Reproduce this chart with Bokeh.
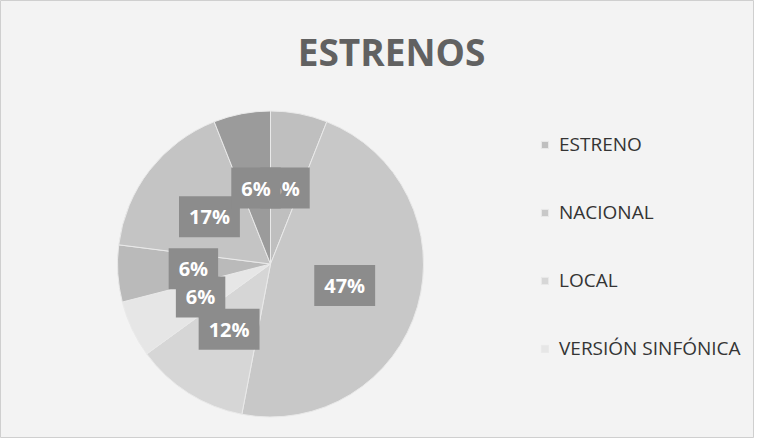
import numpy as np
from bokeh.plotting import figure
from bokeh.models import ColumnDataSource, Range1d, Legend, LegendItem, Label
from bokeh.core.properties import value
from bokeh.embed import file_html
from bokeh.resources import INLINE

# ---- data ----
title_text = "ESTRENOS"
legend_names = ["ESTRENO", "NACIONAL", "LOCAL", "VERSIÓN SINFÓNICA"]
percentages = [6, 47, 12, 6, 6, 17, 6]
label_texts = ["6%", "47%", "12%", "6%", "6%", "17%", "6%"]
slice_colors = ["#bfbfbf", "#c8c8c8", "#d6d6d6", "#e6e6e6", "#bababa", "#c4c4c4", "#9b9b9b"]

# ---- layout ----
W, H = 754, 438
cx, cy, R = 270, 174.5, 153

vals = np.array(percentages, dtype=float)
frac = vals / vals.sum()
ends = np.cumsum(frac) * 2 * np.pi
starts = ends - frac * 2 * np.pi
mids = (starts + ends) / 2

source = ColumnDataSource(dict(
    start=np.pi / 2 - starts,
    end=np.pi / 2 - ends,
    color=slice_colors,
    lx=cx + 0.505 * R * np.sin(mids),
    ly=cy + 0.505 * R * np.cos(mids),
    text=label_texts,
))

p = figure(width=W, height=H, x_range=Range1d(0, W), y_range=Range1d(0, H),
           output_backend="svg", toolbar_location=None, min_border=0,
           x_axis_type=None, y_axis_type=None,
           background_fill_color="#f3f3f3", border_fill_color="#f3f3f3",
           outline_line_color="#cfcfcf")
p.grid.visible = False

r = p.wedge(x=cx, y=cy, radius=R, start_angle="start", end_angle="end",
            direction="clock", fill_color="color", line_color="#e9e9e9",
            line_width=1, source=source)

p.text(x="lx", y="ly", text="text", text_align="center", text_baseline="middle",
       text_color="white", text_font=value("Open Sans"), text_font_style="bold",
       text_font_size="20px", background_fill_color="#8c8c8c", padding=(10, 7),
       source=source)

p.add_layout(Label(x=391, y=387, x_units="screen", y_units="screen", text=title_text,
                   text_align="center", text_baseline="middle", text_font="Open Sans",
                   text_font_style="bold", text_font_size="37px", text_color="#616161"))

items = [LegendItem(label=name, renderers=[r], index=i) for i, name in enumerate(legend_names)]
legend = Legend(items=items, location=(540, 76), glyph_width=9, glyph_height=9,
                label_standoff=10, label_text_font="Open Sans", label_text_font_size="19px",
                label_text_color="#343434", label_height=28, spacing=40, padding=0,
                margin=0, border_line_alpha=0, background_fill_alpha=0)
p.add_layout(legend)

open("out.html", "w").write(file_html(p, INLINE))
